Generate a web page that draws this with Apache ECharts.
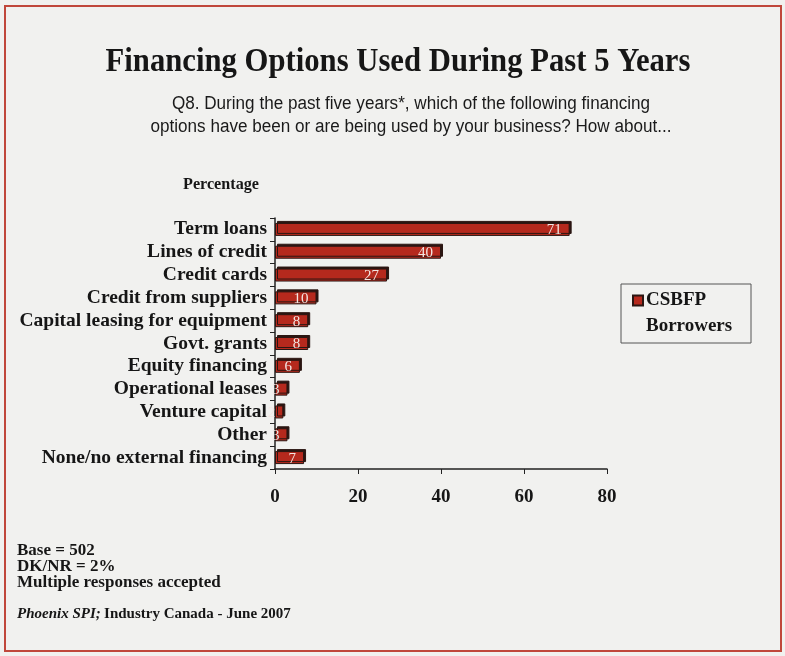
<!DOCTYPE html>
<html>
<head>
<meta charset="utf-8">
<script src="https://cdn.jsdelivr.net/npm/echarts@6/dist/echarts.min.js"></script>
<style>
  html, body { margin: 0; padding: 0; background: #f1f1ef; }
  #chart { width: 785px; height: 656px; }
</style>
</head>
<body>
<div id="chart"></div>
<script>
// Survey responses: financing options used (percentage of respondents)
const categories = [
  'Term loans', 'Lines of credit', 'Credit cards', 'Credit from suppliers',
  'Capital leasing for equipment', 'Govt. grants', 'Equity financing',
  'Operational leases', 'Venture capital', 'Other', 'None/no external financing'
];
const borrowers = [71, 40, 27, 10, 8, 8, 6, 3, 2, 3, 7];
const xTicks = [0, 20, 40, 60, 80];
const seriesName = 'CSBFP';
const seriesNameLine2 = 'Borrowers';

const serif = '"Liberation Serif", "Times New Roman", serif';
const sans = '"Liberation Sans", Arial, sans-serif';
const ink = '#161616';

const chart = echarts.init(document.getElementById('chart'), null, { renderer: 'canvas' });

chart.setOption({
  backgroundColor: '#f1f1ef',
  animation: false,
  legend: {
    left: 632, top: 291,
    padding: 0,
    itemWidth: 10, itemHeight: 10,
    itemGap: 4,
    icon: 'rect',
    selectedMode: false,
    textStyle: { fontFamily: serif, fontWeight: 'bold', fontSize: 19, color: ink, padding: [0, 0, 0, -2] }
  },
  grid: { left: 275, right: 178, top: 218, bottom: 187, containLabel: false },
  xAxis: {
    type: 'value',
    min: 0, max: 80, interval: 20,
    splitLine: { show: false },
    axisLine: { show: true, lineStyle: { color: '#222', width: 1.5 } },
    axisTick: { show: true, length: 5, lineStyle: { color: '#222' } },
    axisLabel: {
      margin: 19,
      fontFamily: serif, fontWeight: 'bold', fontSize: 19, color: ink,
      formatter: v => xTicks.includes(v) ? String(v) : ''
    }
  },
  yAxis: {
    type: 'category',
    data: categories,
    inverse: true,
    axisLine: { show: true, lineStyle: { color: '#222', width: 1.5 } },
    axisTick: { show: true, length: 5, interval: 0, alignWithLabel: false, lineStyle: { color: '#222' } },
    axisLabel: {
      interval: 0,
      hideOverlap: false,
      margin: 8,
      fontFamily: serif, fontWeight: 'bold', fontSize: 19.5, color: ink
    }
  },
  series: [
    {
      name: seriesName,
      type: 'bar',
      data: borrowers,
      barWidth: 13,
      itemStyle: {
        color: '#b5291d',
        borderColor: '#2b1612',
        borderWidth: 1,
        shadowColor: '#2b1612',
        shadowOffsetX: 2,
        shadowOffsetY: -2,
        shadowBlur: 0
      },
      label: {
        show: true,
        position: 'insideRight',
        offset: [-3, 1],
        fontFamily: serif, fontSize: 15, color: '#f3e6e2'
      }
    }
  ],
  graphic: [
    {
      type: 'rect',
      shape: { x: 5, y: 6, width: 776, height: 645 },
      style: { fill: 'none', stroke: '#c0473b', lineWidth: 2 },
      silent: true
    },
    {
      // main heading, drawn slightly condensed
      type: 'text',
      x: 398, y: 62,
      scaleX: 0.93,
      style: {
        text: 'Financing Options Used During Past 5 Years',
        align: 'center', verticalAlign: 'middle',
        fontFamily: serif, fontWeight: 'bold', fontSize: 33, fill: ink
      }
    },
    {
      type: 'text',
      x: 411, y: 116,
      scaleX: 0.95,
      style: {
        text: 'Q8. During the past five years*, which of the following financing\noptions have been or are being used by your business? How about...',
        align: 'center', verticalAlign: 'middle',
        fontFamily: sans, fontSize: 18, lineHeight: 23, fill: '#1a1a1a'
      }
    },
    {
      type: 'text',
      x: 221, y: 185,
      scaleX: 0.95,
      style: {
        text: 'Percentage',
        align: 'center', verticalAlign: 'middle',
        fontFamily: serif, fontWeight: 'bold', fontSize: 17, fill: ink
      }
    },
    {
      // legend frame and second line of the series name
      type: 'rect',
      shape: { x: 621, y: 284, width: 130, height: 59 },
      style: { fill: 'none', stroke: '#555', lineWidth: 1 },
      silent: true
    },
    {
      type: 'text',
      x: 646, y: 326,
      style: {
        text: seriesNameLine2,
        verticalAlign: 'middle',
        fontFamily: serif, fontWeight: 'bold', fontSize: 19, fill: ink
      }
    },
    {
      type: 'text',
      x: 17, y: 543,
      style: {
        text: 'Base = 502\nDK/NR = 2%\nMultiple responses accepted',
        fontFamily: serif, fontWeight: 'bold', fontSize: 17, lineHeight: 16, fill: ink
      }
    },
    {
      type: 'text',
      x: 17, y: 607,
      style: {
        text: '{i|Phoenix SPI;} {b|Industry Canada - June 2007}',
        rich: {
          i: { fontFamily: serif, fontStyle: 'italic', fontWeight: 'bold', fontSize: 15, fill: ink },
          b: { fontFamily: serif, fontWeight: 'bold', fontSize: 15, fill: ink }
        }
      }
    }
  ]
});
</script>
</body>
</html>
